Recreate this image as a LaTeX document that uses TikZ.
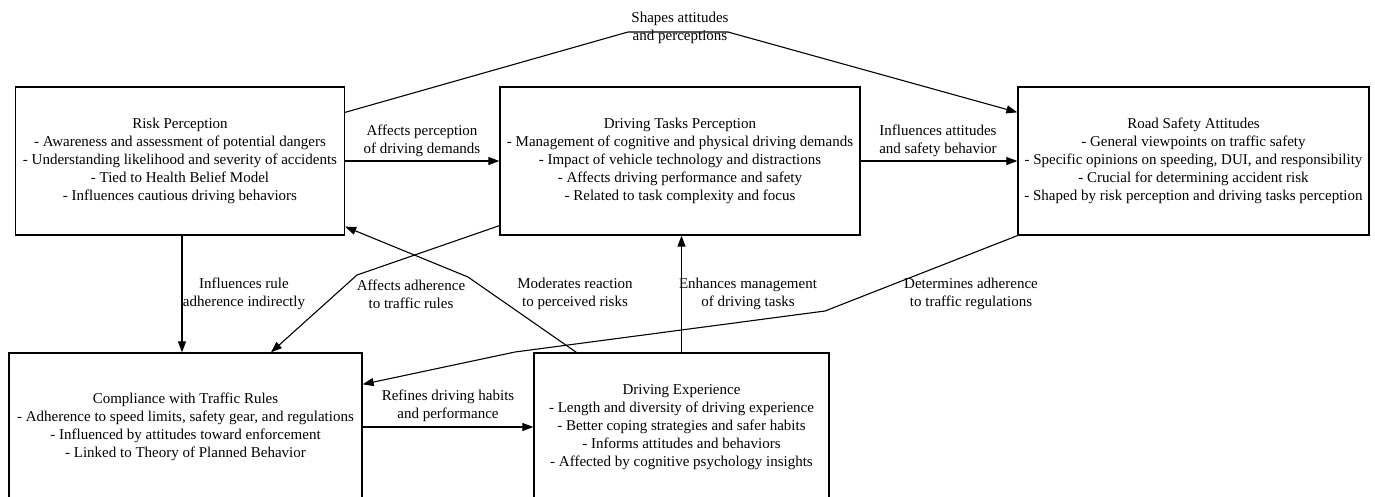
\documentclass[tikz,border=0pt]{standalone}
\usepackage{fontspec}
\setmainfont{Liberation Serif}
\usetikzlibrary{arrows.meta}
\begin{document}
\begin{tikzpicture}[x=1pt,y=-1pt,
  box/.style={draw,line width=1.3pt,rectangle,align=center,inner sep=0pt,
    font=\fontsize{15}{18}\selectfont},
  lbl/.style={align=center,inner sep=0pt,font=\fontsize{15}{18}\selectfont},
  arr/.style={line width=1.1pt,-{Triangle[length=11pt,width=8pt]}},
  ln/.style={line width=1.1pt}]
\useasboundingbox (0,0) rectangle (1375,496);
\clip (0,0) rectangle (1375,496);
% boxes
\node[box,minimum width=329pt,minimum height=148pt] (rp) at (180,161)
 {Risk Perception\\- Awareness and assessment of potential dangers\\- Understanding likelihood and severity of accidents\\- Tied to Health Belief Model\\- Influences cautious driving behaviors};
\node[box,minimum width=360pt,minimum height=148pt] (dtp) at (680,161)
 {Driving Tasks Perception\\- Management of cognitive and physical driving demands\\- Impact of vehicle technology and distractions\\- Affects driving performance and safety\\- Related to task complexity and focus};
\node[box,minimum width=351pt,minimum height=148pt] (rsa) at (1193.5,161)
 {Road Safety Attitudes\\- General viewpoints on traffic safety\\- Specific opinions on speeding, DUI, and responsibility\\- Crucial for determining accident risk\\- Shaped by risk perception and driving tasks perception};
\node[box,minimum width=353pt,minimum height=148pt] (comp) at (185.5,427)
 {Compliance with Traffic Rules\\- Adherence to speed limits, safety gear, and regulations\\- Influenced by attitudes toward enforcement\\- Linked to Theory of Planned Behavior};
\node[box,minimum width=295pt,minimum height=148pt] (de) at (681.5,427)
 {Driving Experience\\- Length and diversity of driving experience\\- Better coping strategies and safer habits\\- Informs attitudes and behaviors\\- Affected by cognitive psychology insights};
% labels
\node[lbl] (l1) at (680,28) {Shapes attitudes\\and perceptions};
\node[lbl] (l2) at (422,141) {Affects perception\\of driving demands};
\node[lbl] (l3) at (938,141) {Influences attitudes\\and safety behavior};
\node[lbl] (l4) at (244,294) {Influences rule\\adherence indirectly};
\node[lbl] (l5) at (411,294) {Affects adherence\\to traffic rules};
\node[lbl] (l6) at (575,294) {Moderates reaction\\to perceived risks};
\node[lbl] (l7) at (748,294) {Enhances management\\of driving tasks};
\node[lbl] (l8) at (971,294) {Determines adherence\\to traffic regulations};
\node[lbl] (l9) at (448,406) {Refines driving habits\\and performance};
% bend coordinates
\coordinate (b1a) at (628,32);
\coordinate (b1b) at (728,32);
\coordinate (b5) at (357,275);
\coordinate (b6) at (468,277);
\coordinate (b8a) at (825,311);
\coordinate (b8b) at (515,352);
% connectors
\draw[arr] ([yshift=-26pt]rp.north east) -- (b1a) -- (b1b) -- ([yshift=-26pt]rsa.north west);
\draw[arr] (rp.east) -- (dtp.west);
\draw[arr] (dtp.east) -- (rsa.west);
\draw[arr] ([xshift=2pt]rp.south) -- ([xshift=2pt]rp.south |- comp.north);
\draw[arr] ([yshift=10pt]dtp.south west) -- (b5) -- ([xshift=85.5pt]comp.north);
\draw[arr] ([xshift=43pt]de.north west) -- (b6) -- ([yshift=9pt]rp.south east);
\draw[arr] (de.north) -- (de.north |- dtp.south);
\draw[arr] (rsa.south west) -- (b8a) -- (b8b) -- ([yshift=-32pt]comp.north east);
\draw[arr] (comp.east) -- (de.west);
\end{tikzpicture}
\end{document}
